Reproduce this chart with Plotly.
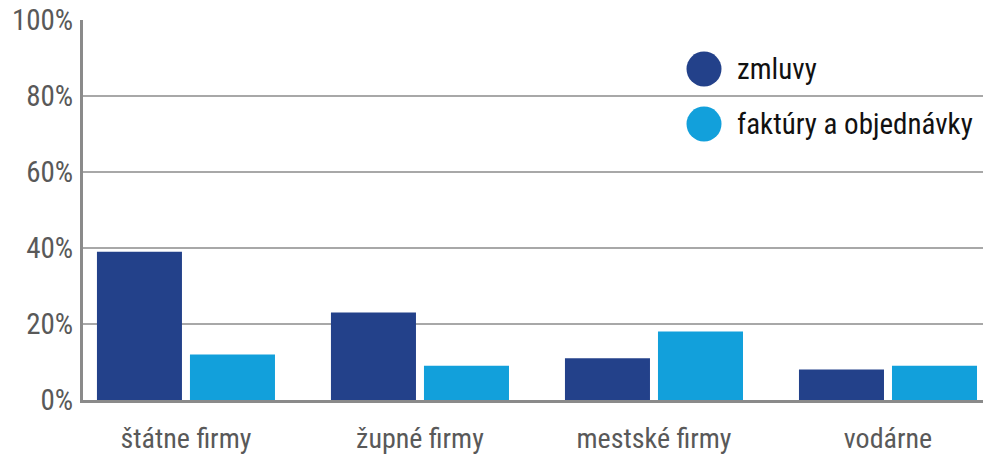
import plotly.graph_objects as go

categories = ["štátne firmy", "župné firmy", "mestské firmy", "vodárne"]
zmluvy = [39, 23, 11, 8]
faktury = [12, 9, 18, 9]
series_names = ["zmluvy", "faktúry a objednávky"]
colors = ["#23418a", "#12a0db"]
y_ticks = [0, 20, 40, 60, 80, 100]
y_tick_labels = ["0%", "20%", "40%", "60%", "80%", "100%"]

FONT = "Roboto Condensed, Liberation Sans Narrow, Arial Narrow, Liberation Sans, Arial, sans-serif"

fig = go.Figure()
for name, vals, col in zip(series_names, [zmluvy, faktury], colors):
    fig.add_trace(go.Bar(x=categories, y=vals, name=name, marker=dict(color=col, line=dict(width=0)),
                         showlegend=False))

W, H = 983, 455
ml, mr, mt, mb = 83, 0, 20, 55
pw, ph = W - ml - mr, H - mt - mb

def px_x(p):
    return (p - ml) / pw

def px_y(p):
    return (H - mb - p) / ph

shapes = []
annotations = []
legend_pos = [(704, 69), (704, 124)]
for (cx, cy), name, col in zip(legend_pos, series_names, colors):
    r = 17.5
    shapes.append(dict(type="circle", xref="paper", yref="paper",
                       x0=px_x(cx - r), x1=px_x(cx + r), y0=px_y(cy + r), y1=px_y(cy - r),
                       fillcolor=col, line=dict(width=0), layer="above"))
    annotations.append(dict(x=px_x(cx + 31), y=px_y(cy), xref="paper", yref="paper",
                            text=name, showarrow=False, xanchor="left", yanchor="middle",
                            font=dict(family=FONT, size=29, color="#111111")))

fig.update_layout(
    width=W, height=H,
    margin=dict(l=ml, r=mr, t=mt, b=mb, autoexpand=False),
    paper_bgcolor="white", plot_bgcolor="white",
    barmode="group", bargap=0.205, bargroupgap=0.086,
    font=dict(family=FONT, size=29, color="#595959"),
    shapes=shapes, annotations=annotations,
    showlegend=False,
)
fig.update_xaxes(
    range=[-0.44, 3.406], showgrid=False, showline=True, linecolor="#8a8a8a", linewidth=3,
    ticks="", tickfont=dict(family=FONT, size=28, color="#595959"), ticklabelstandoff=11,
    automargin=False,
)
fig.update_yaxes(
    range=[0, 100], tickvals=y_ticks, ticktext=y_tick_labels, showgrid=True,
    gridcolor="#a8a8a8", gridwidth=1.5, showline=True, linecolor="#8a8a8a", linewidth=3,
    ticks="", tickfont=dict(family=FONT, size=29, color="#595959"), ticklabelstandoff=1,
    zeroline=False, automargin=False,
)

fig.write_html("out.html", config={"displayModeBar": False},
               post_script="document.body.style.margin='0';document.body.style.overflow='hidden';")
